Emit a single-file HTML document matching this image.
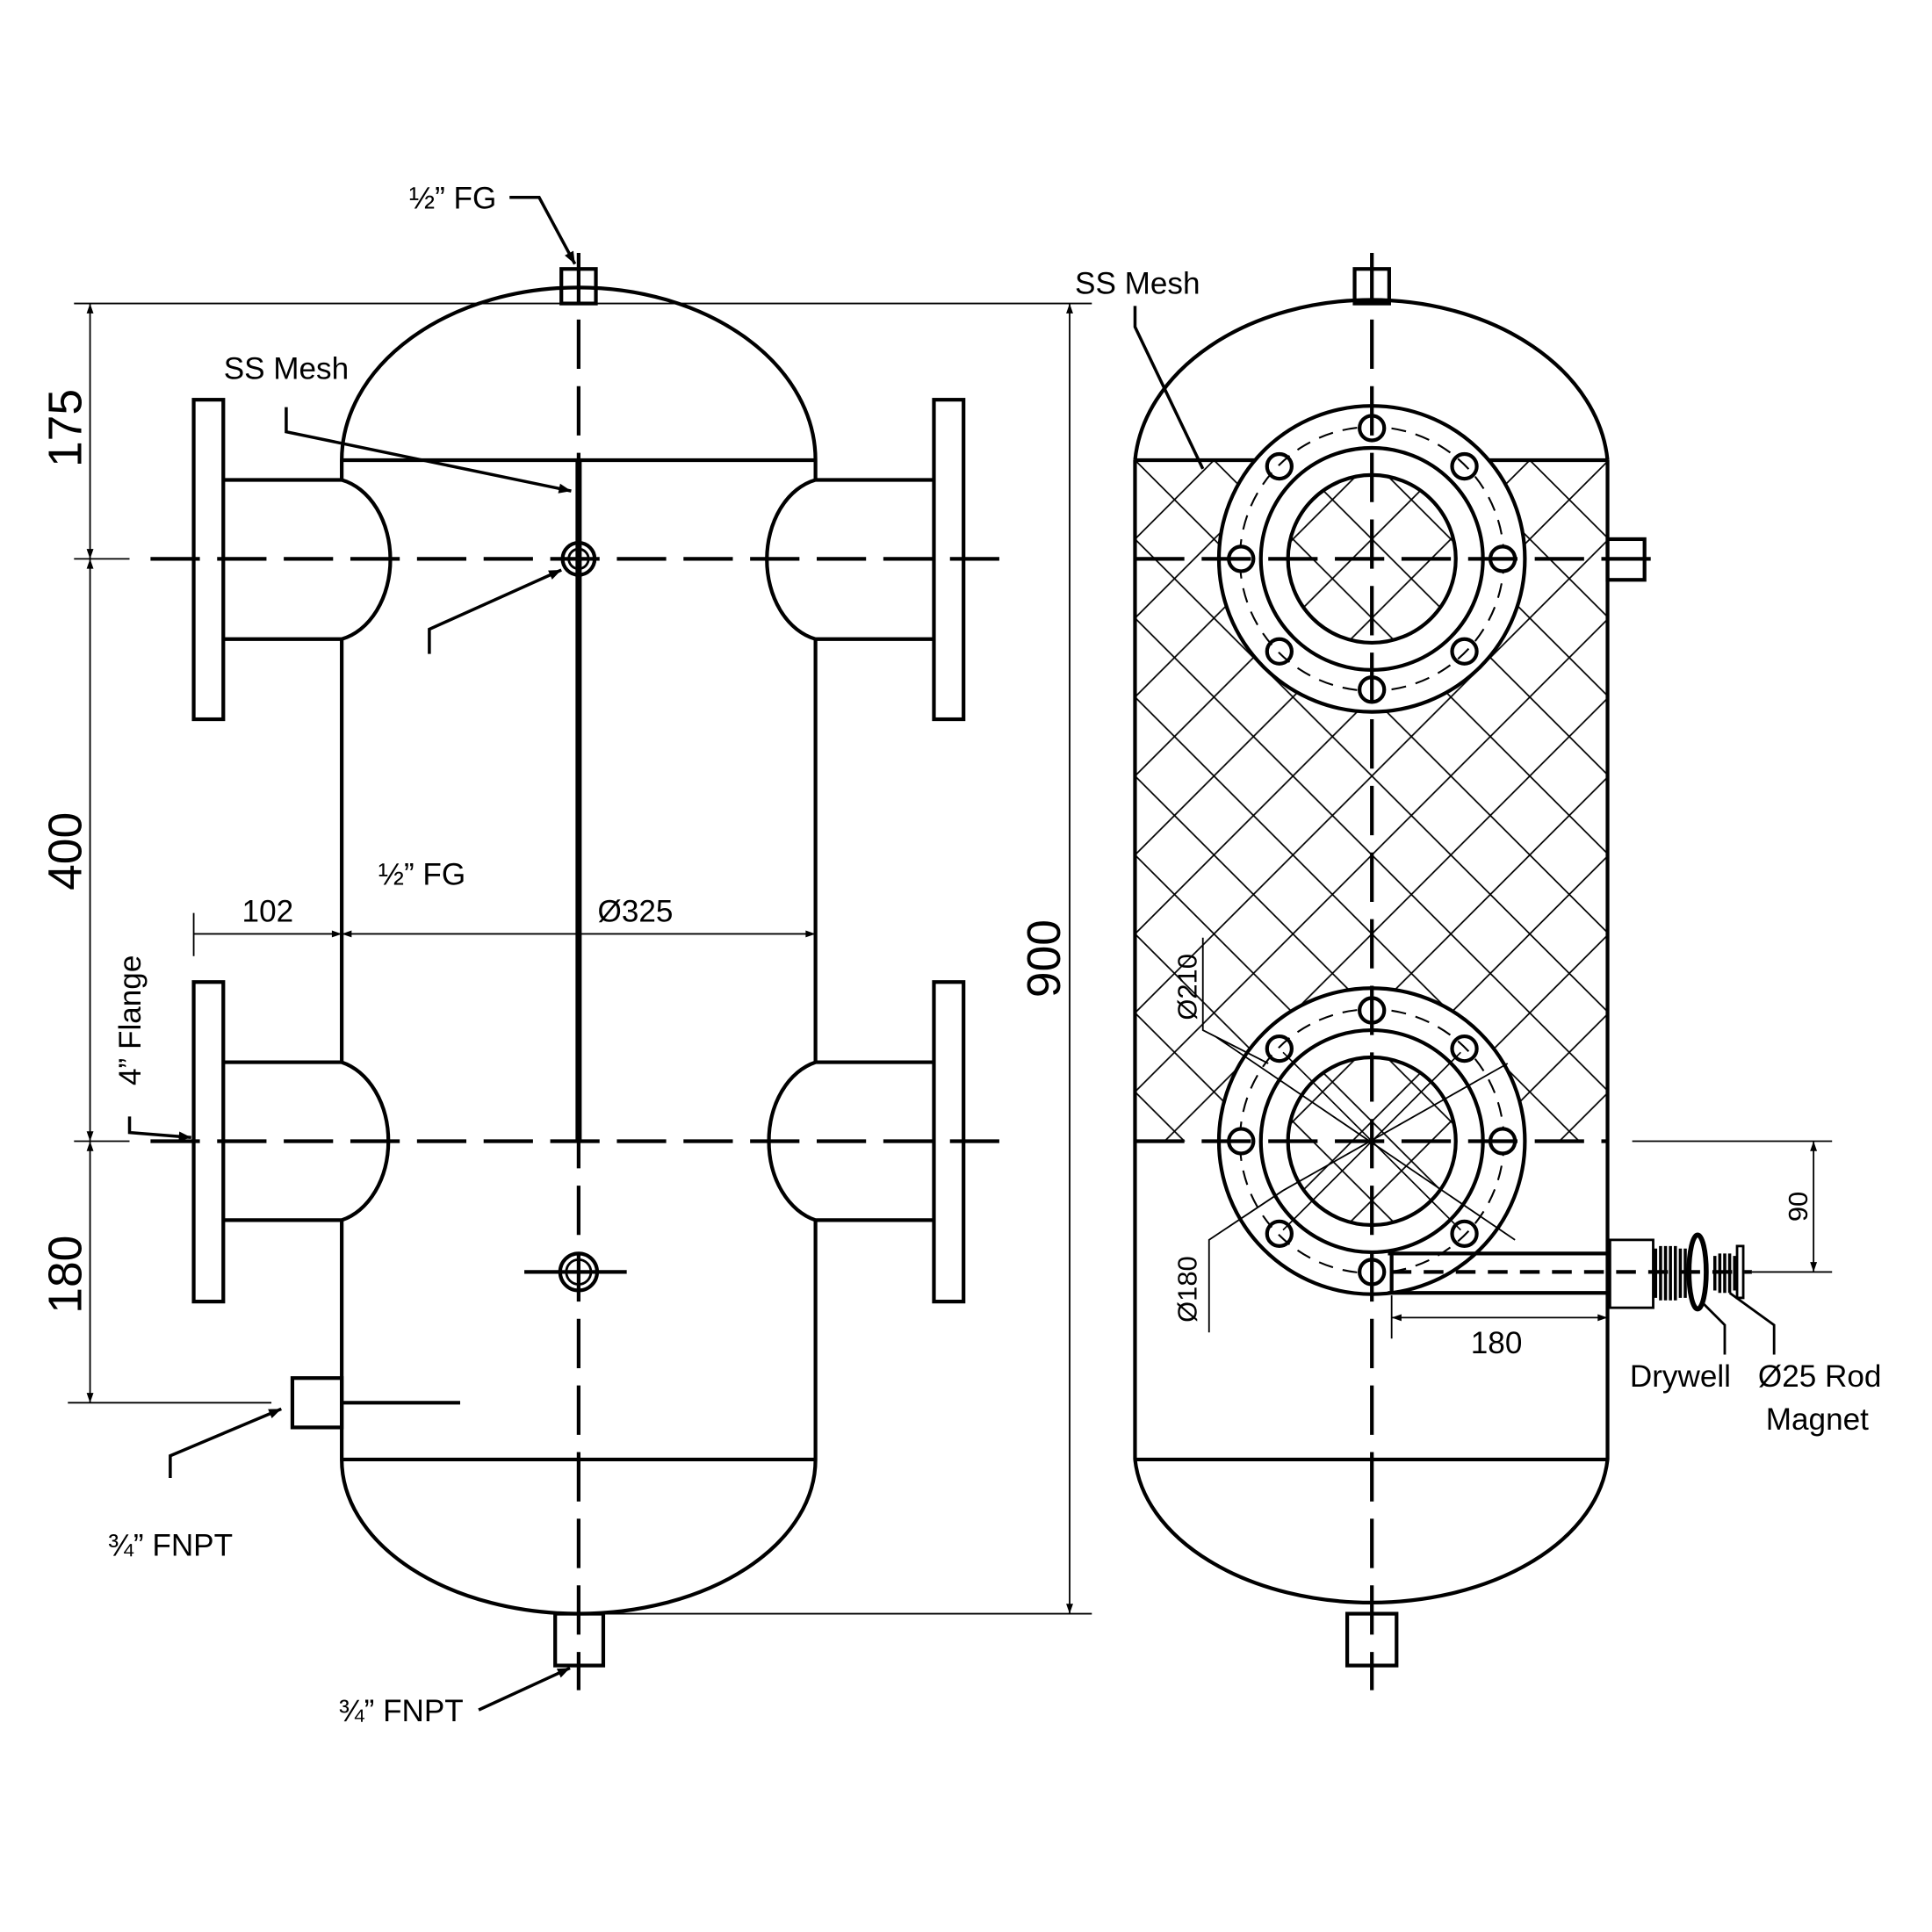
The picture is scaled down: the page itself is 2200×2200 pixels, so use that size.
<!DOCTYPE html>
<html><head><style>html,body{margin:0;padding:0;background:#fff}svg{display:block}</style></head>
<body>
<svg width="2200" height="2200" viewBox="0 0 1566 1566" xmlns="http://www.w3.org/2000/svg" font-family="Liberation Sans, sans-serif">
<defs>
<marker id="a" viewBox="0 0 10 10" refX="10" refY="5" markerWidth="10" markerHeight="8" markerUnits="userSpaceOnUse" orient="auto"><path d="M0,1.5 L10,5 L0,8.5z" fill="#000"/></marker>
<marker id="as" viewBox="0 0 10 10" refX="0" refY="5" markerWidth="10" markerHeight="8" markerUnits="userSpaceOnUse" orient="auto"><path d="M10,1.5 L0,5 L10,8.5z" fill="#000"/></marker>
<marker id="b" viewBox="0 0 10 10" refX="10" refY="5" markerWidth="16" markerHeight="10" markerUnits="userSpaceOnUse" orient="auto"><path d="M0,1 L10,5 L0,9z" fill="#000"/></marker>
<pattern id="h" width="64" height="64" patternUnits="userSpaceOnUse" patternTransform="translate(920,373)">
<path d="M0,0 L64,64 M64,0 L0,64" stroke="#000" stroke-width="1.2"/></pattern>
</defs>
<g fill="none" stroke="#000" stroke-width="3">
<rect x="455" y="218" width="28" height="28"/>
<rect x="450" y="1308" width="39" height="42"/>
<path d="M277,373 A192,140 0 0 1 661,373 M277,1183 A192,125 0 0 0 661,1183"/>
<path d="M277,373 H661 M277,1183 H661 M277,373 V389 M277,518 V861 M277,989 V1183 M661,373 V389 M661,518 V861 M661,989 V1183"/>
<rect x="157" y="324" width="24" height="259"/>
<rect x="757" y="324" width="24" height="259"/>
<rect x="157" y="796" width="24" height="259"/>
<rect x="757" y="796" width="24" height="259"/>
<path d="M181,389 H277 A50,66 0 0 1 277,518 H181 M757,389 H661 A50,66 0 0 0 661,518 H757"/>
<path d="M181,861 H277 A50,66 0 0 1 277,989 H181 M757,861 H661 A50,66 0 0 0 661,989 H757"/>
<rect x="237" y="1117" width="40" height="40"/>
<path d="M277,1137 H373"/>
<path d="M469,373 V925" stroke-width="5"/>
<circle cx="469" cy="453" r="13"/><circle cx="469" cy="453" r="8" stroke-width="2"/>
<circle cx="469" cy="1031" r="15"/><circle cx="469" cy="1031" r="10" stroke-width="2"/>
<path d="M425,1031 H508"/>
<path d="M122,453 H820 M122,925 H820 M469,205 V1370" stroke-dasharray="40,14"/>
<rect x="920" y="373" width="383" height="552" fill="url(#h)" stroke="none"/>
<rect x="1098" y="218" width="28" height="28"/>
<rect x="1092" y="1308" width="40" height="42"/>
<path d="M920,373 A192,140 0 0 1 1303,373 M920,1183 A192,125 0 0 0 1303,1183"/>
<path d="M920,373 H1303 M920,1183 H1303 M920,373 V1183 M1303,373 V1183"/>
<rect x="1303" y="437" width="30" height="33"/>
<g id="fl">
<circle cx="1112" cy="453" r="124" fill="#fff"/>
<circle cx="1112" cy="453" r="107" stroke-width="1.5" stroke-dasharray="12,8"/>
<circle cx="1112" cy="453" r="90"/>
<circle cx="1112" cy="453" r="68" fill="url(#h)"/>
<circle cx="1112" cy="347" r="10" fill="#fff"/><circle cx="1112" cy="559" r="10" fill="#fff"/>
<circle cx="1006" cy="453" r="10" fill="#fff"/><circle cx="1218" cy="453" r="10" fill="#fff"/>
<circle cx="1187" cy="378" r="10"/><circle cx="1037" cy="378" r="10"/>
<circle cx="1187" cy="528" r="10"/><circle cx="1037" cy="528" r="10"/>
</g>
<use href="#fl" y="472"/>
<path d="M920,453 H1352 M920,925 H1303 M1112,205 V1370" stroke-dasharray="40,14"/>
<path d="M1040,853 L1184,997 M1184,853 L1040,997" stroke-width="1.2"/>
<path d="M1125,1016 H1305 M1125,1048 H1305 M1128,1016 V1048" stroke-width="3"/>
<path d="M1128,1031 H1420" stroke-dasharray="16,10"/>
<rect x="1305" y="1005" width="35" height="55" stroke-width="2"/>
<path d="M1342,1012 V1052 M1346,1010 V1054 M1350,1010 V1054 M1354,1010 V1054 M1358,1010 V1054 M1362,1012 V1052 M1366,1012 V1052" stroke-width="2.5"/>
<ellipse cx="1376" cy="1031" rx="7" ry="30" stroke-width="4"/>
<path d="M1390,1018 V1046 M1394,1016 V1048 M1398,1016 V1048 M1402,1016 V1048 M1406,1018 V1046" stroke-width="2.5"/>
<rect x="1408" y="1010" width="5" height="42" stroke-width="2"/>
<path d="M1380,1056 L1398,1074 V1098 M1402,1048 L1438,1074 V1098" stroke-width="2"/>
</g>
<g fill="none" stroke="#000" stroke-width="1.3">
<path d="M60,246 H885 M60,453 H105 M60,925 H105 M55,1137 H220 M490,1308 H885"/>
<path d="M73,246 V453" marker-start="url(#as)" marker-end="url(#a)"/>
<path d="M73,453 V925" marker-start="url(#as)" marker-end="url(#a)"/>
<path d="M73,925 V1137" marker-start="url(#as)" marker-end="url(#a)"/>
<path d="M867,246 V1308" marker-start="url(#as)" marker-end="url(#a)"/>
<path d="M157,740 V775 M157,757 H277" marker-end="url(#a)"/>
<path d="M277,757 H661" marker-start="url(#as)" marker-end="url(#a)"/>
<path d="M1323,925 H1485 M1420,1031 H1485"/>
<path d="M1470,925 V1031" marker-start="url(#as)" marker-end="url(#a)"/>
<path d="M1128,1050 V1085"/>
<path d="M1128,1068 H1303" marker-start="url(#as)" marker-end="url(#a)"/>
<path d="M975,760 V835 L1028,862 M985,840 L1228,1005 M980,1080 V1005 L1040,965 M1040,965 L1222,862"/>
</g>
<g fill="none" stroke="#000" stroke-width="2.5">
<path d="M413,160 H437 L466,214" marker-end="url(#b)"/>
<path d="M232,330 V350 L463,398" marker-end="url(#b)"/>
<path d="M348,530 V510 L455,462" marker-end="url(#b)"/>
<path d="M105,905 V918 L155,922" marker-end="url(#b)"/>
<path d="M138,1198 V1180 L228,1142" marker-end="url(#b)"/>
<path d="M388,1386 L462,1352" marker-end="url(#b)"/>
<path d="M920,248 V265 L975,380"/>
</g>
<g font-size="25" fill="#000">
<text x="367" y="169" text-anchor="middle">½” FG</text>
<text x="232" y="307" text-anchor="middle">SS Mesh</text>
<text x="922" y="238" text-anchor="middle">SS Mesh</text>
<text x="342" y="717" text-anchor="middle">½” FG</text>
<text x="217" y="747" text-anchor="middle">102</text>
<text x="515" y="747" text-anchor="middle">Ø325</text>
<text x="138" y="1261" text-anchor="middle">¾” FNPT</text>
<text x="325" y="1395" text-anchor="middle">¾” FNPT</text>
<text x="1213" y="1097" text-anchor="middle">180</text>
<text x="1362" y="1124" text-anchor="middle">Drywell</text>
<text x="1475" y="1124" text-anchor="middle">Ø25 Rod</text>
<text x="1473" y="1159" text-anchor="middle">Magnet</text>
<text transform="translate(114,827) rotate(-90)" text-anchor="middle">4” Flange</text>
<text transform="translate(970,800) rotate(-90)" text-anchor="middle" font-size="22">Ø210</text>
<text transform="translate(970,1045) rotate(-90)" text-anchor="middle" font-size="22">Ø180</text>
<text transform="translate(1465,978) rotate(-90)" text-anchor="middle" font-size="22">90</text>
</g>
<g font-size="38" fill="#000" text-anchor="middle">
<text transform="translate(66,347) rotate(-90)">175</text>
<text transform="translate(66,690) rotate(-90)">400</text>
<text transform="translate(66,1033) rotate(-90)">180</text>
<text transform="translate(859,777) rotate(-90)">900</text>
</g>
</svg>
</body></html>
